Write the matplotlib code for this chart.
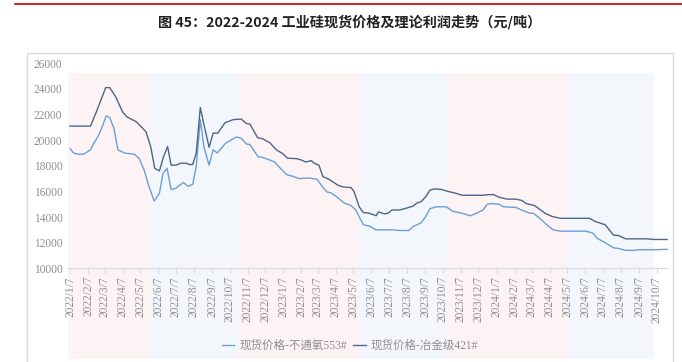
import matplotlib
matplotlib.use("Agg")
import matplotlib.pyplot as plt
import matplotlib.dates as mdates
from matplotlib.lines import Line2D
from matplotlib.patches import Rectangle
import pandas as pd

title = "图 45：2022-2024 工业硅现货价格及理论利润走势（元/吨）"
series_names = ["现货价格-不通氧553#", "现货价格-冶金级421#"]

dates_421 = ["2022-01-07", "2022-02-11", "2022-02-21", "2022-03-09", "2022-03-16", "2022-03-26",
             "2022-04-07", "2022-04-15", "2022-04-30", "2022-05-11", "2022-05-17", "2022-05-25",
             "2022-06-01", "2022-06-09", "2022-06-16", "2022-06-23", "2022-06-29", "2022-07-07",
             "2022-07-16", "2022-07-25", "2022-07-30", "2022-08-05", "2022-08-11", "2022-08-18",
             "2022-08-25", "2022-09-02", "2022-09-09", "2022-09-17", "2022-09-29", "2022-10-13",
             "2022-10-27", "2022-11-05", "2022-11-11", "2022-11-24", "2022-12-03", "2022-12-15",
             "2022-12-26", "2023-01-06", "2023-01-14", "2023-01-31", "2023-02-07", "2023-02-14",
             "2023-02-24", "2023-03-01", "2023-03-09", "2023-03-16", "2023-03-26", "2023-04-10",
             "2023-04-19", "2023-05-03", "2023-05-08", "2023-05-17", "2023-05-24", "2023-06-03",
             "2023-06-15", "2023-06-19", "2023-06-29", "2023-07-05", "2023-07-12", "2023-07-25",
             "2023-08-06", "2023-08-17", "2023-08-24", "2023-08-31", "2023-09-08", "2023-09-15",
             "2023-09-23", "2023-10-05", "2023-10-16", "2023-10-30", "2023-11-09", "2023-12-15",
             "2023-12-24", "2024-01-02", "2024-01-11", "2024-01-25", "2024-02-09", "2024-02-19",
             "2024-02-27", "2024-03-12", "2024-03-21", "2024-03-30", "2024-04-11", "2024-04-25",
             "2024-06-14", "2024-06-24", "2024-07-11", "2024-07-25", "2024-08-03", "2024-08-15",
             "2024-09-21", "2024-10-02", "2024-10-25"]
values_421 = [21100, 21100, 22200, 24100, 24100, 23400,
              22200, 21800, 21450, 20950, 20650, 19500,
              17800, 17600, 18700, 19500, 18050, 18050,
              18200, 18200, 18100, 18100, 19000, 22550,
              21050, 19450, 20550, 20550, 21350, 21600,
              21650, 21300, 21250, 20200, 20100, 19800,
              19250, 18950, 18600, 18550, 18450, 18300,
              18400, 18200, 18050, 17150, 16950, 16500,
              16350, 16300, 16000, 14800, 14350, 14300,
              14100, 14400, 14250, 14300, 14550, 14550,
              14700, 14850, 15100, 15200, 15600, 16100,
              16200, 16150, 16000, 15850, 15700, 15700,
              15750, 15750, 15550, 15400, 15400, 15300,
              15050, 14900, 14600, 14300, 14050, 13900,
              13900, 13650, 13400, 12600, 12550, 12300,
              12300, 12250, 12250]

dates_553 = ["2022-01-07", "2022-01-13", "2022-01-21", "2022-01-30", "2022-02-11", "2022-02-16",
             "2022-02-24", "2022-03-01", "2022-03-10", "2022-03-16", "2022-03-23", "2022-03-30",
             "2022-04-10", "2022-04-18", "2022-04-27", "2022-05-05", "2022-05-14", "2022-05-22",
             "2022-05-31", "2022-06-09", "2022-06-15", "2022-06-22", "2022-06-29", "2022-07-07",
             "2022-07-20", "2022-07-28", "2022-08-05", "2022-08-11", "2022-08-18", "2022-08-24",
             "2022-09-02", "2022-09-09", "2022-09-16", "2022-09-30", "2022-10-13", "2022-10-19",
             "2022-10-27", "2022-11-05", "2022-11-11", "2022-11-25", "2022-12-03", "2022-12-15",
             "2022-12-23", "2023-01-01", "2023-01-13", "2023-01-22", "2023-02-03", "2023-02-19",
             "2023-03-06", "2023-03-16", "2023-03-23", "2023-03-29", "2023-04-08", "2023-04-21",
             "2023-05-03", "2023-05-11", "2023-05-24", "2023-06-03", "2023-06-15", "2023-07-13",
             "2023-07-25", "2023-08-10", "2023-08-17", "2023-08-31", "2023-09-08", "2023-09-15",
             "2023-09-26", "2023-10-13", "2023-10-24", "2023-11-09", "2023-11-23", "2023-12-04",
             "2023-12-15", "2023-12-22", "2023-12-30", "2024-01-11", "2024-01-19", "2024-02-09",
             "2024-02-19", "2024-03-04", "2024-03-10", "2024-03-21", "2024-04-02", "2024-04-13",
             "2024-04-25", "2024-06-07", "2024-06-20", "2024-06-27", "2024-07-11", "2024-07-25",
             "2024-08-03", "2024-08-15", "2024-08-29", "2024-09-07", "2024-10-02", "2024-10-25"]
values_553 = [19350, 19000, 18900, 18900, 19250, 19700,
              20300, 20800, 21900, 21750, 20950, 19250,
              19000, 18950, 18900, 18600, 17650, 16400,
              15250, 15850, 17400, 17800, 16150, 16250,
              16700, 16400, 16550, 17950, 21600, 19500,
              18050, 19250, 19000, 19750, 20100, 20250,
              20150, 19700, 19650, 18700, 18650, 18450,
              18300, 17850, 17300, 17200, 17000, 17050,
              16950, 16300, 15950, 15900, 15600, 15100,
              14900, 14550, 13400, 13300, 13000, 13000,
              12950, 12950, 13250, 13550, 14050, 14650,
              14800, 14800, 14450, 14300, 14100, 14300,
              14550, 15000, 15050, 15000, 14800, 14750,
              14550, 14300, 14300, 13900, 13400, 13000,
              12900, 12900, 12750, 12350, 12000, 11600,
              11550, 11400, 11400, 11450, 11450, 11480]

tick_dates = ["2022-01-07", "2022-02-07", "2022-03-07", "2022-04-07", "2022-05-07", "2022-06-07",
              "2022-07-07", "2022-08-07", "2022-09-07", "2022-10-07", "2022-11-07", "2022-12-07",
              "2023-01-07", "2023-02-07", "2023-03-07", "2023-04-07", "2023-05-07", "2023-06-07",
              "2023-07-07", "2023-08-07", "2023-09-07", "2023-10-07", "2023-11-07", "2023-12-07",
              "2024-01-07", "2024-02-07", "2024-03-07", "2024-04-07", "2024-05-07", "2024-06-07",
              "2024-07-07", "2024-08-07", "2024-09-07", "2024-10-07"]
tick_labels = ["2022/1/7", "2022/2/7", "2022/3/7", "2022/4/7", "2022/5/7", "2022/6/7",
               "2022/7/7", "2022/8/7", "2022/9/7", "2022/10/7", "2022/11/7", "2022/12/7",
               "2023/1/7", "2023/2/7", "2023/3/7", "2023/4/7", "2023/5/7", "2023/6/7",
               "2023/7/7", "2023/8/7", "2023/9/7", "2023/10/7", "2023/11/7", "2023/12/7",
               "2024/1/7", "2024/2/7", "2024/3/7", "2024/4/7", "2024/5/7", "2024/6/7",
               "2024/7/7", "2024/8/7", "2024/9/7", "2024/10/7"]
y_ticks = [10000, 12000, 14000, 16000, 18000, 20000, 22000, 24000, 26000]

# season bands (start, end, kind)
band_starts = ["2022-01-03", "2022-05-24", "2022-10-21", "2023-05-17", "2023-10-12", "2024-05-07"]
band_ends = ["2022-05-24", "2022-10-21", "2023-05-17", "2023-10-12", "2024-05-07", "2024-10-03"]
band_colors = ["#fdf3f4", "#f3f7fc", "#fdf3f4", "#f3f7fc", "#fdf3f4", "#f3f7fc"]

W, H = 682, 362
fig = plt.figure(figsize=(W / 100, H / 100), dpi=100)
fig.patch.set_facecolor("white")

serif = ["Liberation Serif", "Noto Sans CJK SC"]
gray = "#8f8f8f"

# top red rule and frame
fig.add_artist(Line2D([15 / W, 1], [1 - 3.5 / H, 1 - 3.5 / H], color="#c00000", lw=1.2,
                      transform=fig.transFigure))
fig.add_artist(Rectangle((27 / W, -0.02), (673 - 27) / W, (362 - 52.5) / H + 0.02,
                         transform=fig.transFigure, fill=False, edgecolor="#d9d9d9", lw=1.0))
fig.text(350 / W, 1 - 22 / H, title, ha="center", va="center", fontsize=10.2,
         fontweight="bold", color="#222222", family=["Noto Sans CJK SC", "DejaVu Sans"])

ax = fig.add_axes([67.7 / W, 1 - 268.3 / H, 600 / W, 205 / H])
ax.set_facecolor("none")

for s, e, c in zip(band_starts, band_ends, band_colors):
    ax.axvspan(pd.Timestamp(s), pd.Timestamp(e), ymin=-0.442, ymax=0.955, color=c,
               lw=0, clip_on=False, zorder=0)

l553, = ax.plot(pd.to_datetime(dates_553), values_553, color="#6a9fd6", lw=1.0, zorder=3)
l421, = ax.plot(pd.to_datetime(dates_421), values_421, color="#4d6688", lw=1.0, zorder=3)

ax.set_ylim(10000, 26000)
ax.set_xlim(pd.Timestamp("2022-01-03"), pd.Timestamp("2024-10-26"))
ax.set_yticks(y_ticks)
ax.set_yticklabels([str(v) for v in y_ticks], family=serif, fontsize=8.3, color=gray)
ax.set_xticks(pd.to_datetime(tick_dates))
ax.set_xticklabels(tick_labels, rotation=90, family=serif, fontsize=8.3, color=gray,
                   ha="center", va="top")
ax.tick_params(axis="y", length=0, pad=3.8)
ax.tick_params(axis="x", length=3.5, color="#d9d9d9", width=0.8, pad=2)

for sp in ["top", "right", "left"]:
    ax.spines[sp].set_visible(False)
ax.spines["bottom"].set_color("#d9d9d9")
ax.spines["bottom"].set_linewidth(0.8)

leg = fig.legend([l553, l421], series_names, loc="center", bbox_to_anchor=(350 / W, 1 - 346 / H),
                 ncol=2, frameon=False, handlelength=1.1, handletextpad=0.45,
                 columnspacing=0.5, prop={"family": serif, "size": 8.3})
for t in leg.get_texts():
    t.set_color(gray)

fig.savefig("out.png", dpi=100, facecolor="white")
